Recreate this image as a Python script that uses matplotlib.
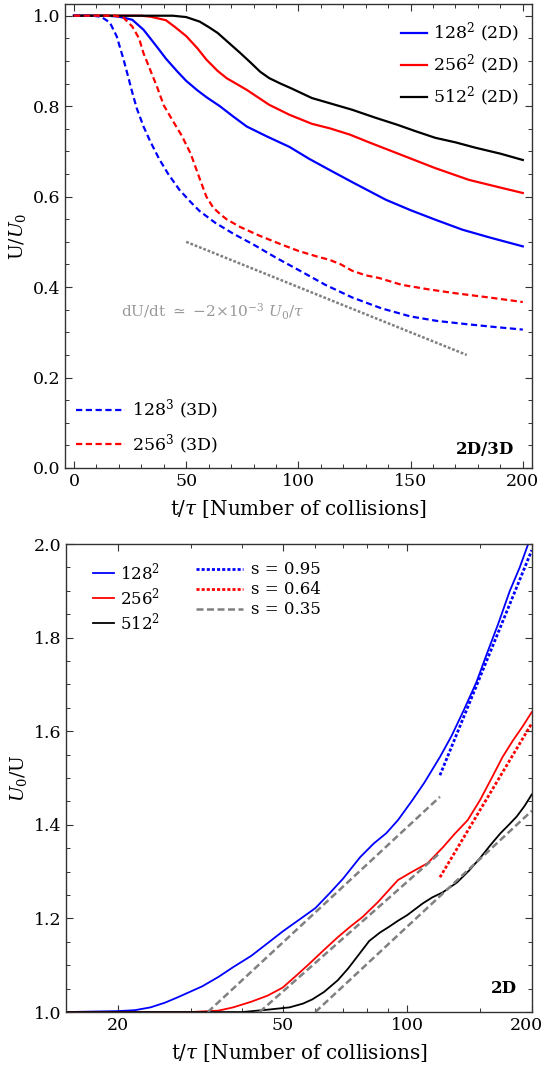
import matplotlib
matplotlib.use("Agg")
import matplotlib.pyplot as plt
import matplotlib.transforms as mtransforms
from matplotlib.ticker import FixedLocator, NullFormatter, MultipleLocator

plt.rcParams['font.family'] = ['DejaVu Serif']
plt.rcParams['mathtext.fontset'] = 'dejavuserif'
plt.rcParams['font.size'] = 12.5

# --- energy decay U/U0 (top) ---
t_b2 = [0, 15, 20, 26, 31, 37, 41, 46, 50, 55, 59, 65, 71, 77, 86, 96, 105, 115, 124, 139, 150, 161, 173, 185, 200]
u_b2 = [1, 1, 0.998, 0.991, 0.969, 0.931, 0.905, 0.877, 0.856, 0.835, 0.82, 0.80, 0.777, 0.755, 0.733, 0.71, 0.683,
        0.656, 0.632, 0.593, 0.57, 0.549, 0.527, 0.51, 0.49]
t_r2 = [0, 30, 34, 41, 45, 50, 55, 59, 64, 68, 77, 87, 96, 106, 114, 123, 132, 146, 161, 176, 190, 200]
u_r2 = [1, 1, 0.998, 0.99, 0.975, 0.955, 0.928, 0.903, 0.878, 0.862, 0.836, 0.803, 0.781, 0.761, 0.751, 0.737, 0.719,
        0.692, 0.663, 0.637, 0.62, 0.608]
t_k2 = [0, 44, 50, 56, 60, 64, 69, 74, 79, 83, 87, 92, 97, 106, 115, 124, 134, 144, 152, 161, 170, 179, 190, 200]
u_k2 = [1, 1, 0.997, 0.987, 0.975, 0.962, 0.94, 0.918, 0.895, 0.876, 0.862, 0.85, 0.839, 0.818, 0.805, 0.792, 0.775,
        0.759, 0.745, 0.73, 0.72, 0.708, 0.695, 0.681]
t_b3 = [0, 8, 12, 16, 19, 22, 24, 26, 28, 31, 34, 38, 42, 47, 52, 56, 63, 71, 80, 90, 100, 112, 124, 137, 150, 162,
        175, 187, 200]
u_b3 = [1, 1, 0.998, 0.985, 0.955, 0.905, 0.868, 0.83, 0.795, 0.755, 0.722, 0.683, 0.65, 0.615, 0.588, 0.568, 0.542,
        0.518, 0.494, 0.465, 0.438, 0.405, 0.377, 0.353, 0.335, 0.325, 0.318, 0.312, 0.306]
t_r3 = [0, 18, 22, 26, 29, 31, 34, 37, 40, 44, 48, 52, 56, 59, 62, 65, 68, 74, 82, 92, 100, 108, 114, 119, 124, 130,
        136, 146, 158, 169, 185, 200]
u_r3 = [1, 1, 0.996, 0.976, 0.95, 0.917, 0.88, 0.843, 0.802, 0.768, 0.735, 0.695, 0.64, 0.6, 0.576, 0.562, 0.55,
        0.533, 0.515, 0.495, 0.48, 0.468, 0.46, 0.45, 0.436, 0.426, 0.42, 0.405, 0.395, 0.387, 0.377, 0.367]
t_slope = [50, 175]
u_slope = [0.5, 0.25]

# --- inverse energy U0/U (bottom, log time) ---
t_b = [15, 20, 22, 24, 26, 28, 32, 35, 38, 42, 46, 50, 56, 60, 65, 70, 77, 83, 89, 95, 103, 110, 120, 128, 137, 147,
       156, 166, 177, 187, 196, 200]
v_b = [1.0, 1.002, 1.004, 1.01, 1.02, 1.032, 1.055, 1.075, 1.096, 1.12, 1.147, 1.172, 1.203, 1.222, 1.254, 1.285,
       1.331, 1.36, 1.382, 1.41, 1.453, 1.49, 1.545, 1.59, 1.645, 1.705, 1.767, 1.83, 1.90, 1.95, 2.0, 2.02]
t_r = [15, 30, 35, 38, 42, 46, 50, 54, 58, 63, 68, 73, 78, 85, 95, 102, 112, 122, 130, 140, 150, 160, 170, 180, 190, 200]
v_r = [1.0, 1.0, 1.003, 1.01, 1.022, 1.035, 1.052, 1.078, 1.103, 1.133, 1.16, 1.183, 1.203, 1.235, 1.282, 1.298, 1.318,
       1.352, 1.38, 1.41, 1.453, 1.5, 1.545, 1.58, 1.61, 1.641]
t_k = [15, 40, 46, 52, 56, 59, 63, 68, 72, 76, 81, 86, 90, 95, 100, 109, 115, 122, 132, 141, 150, 159, 168, 176, 184,
       192, 200]
v_k = [1.0, 1.0, 1.005, 1.01, 1.018, 1.027, 1.043, 1.068, 1.093, 1.12, 1.152, 1.17, 1.181, 1.195, 1.207, 1.232,
       1.245, 1.256, 1.277, 1.302, 1.329, 1.357, 1.382, 1.4, 1.418, 1.44, 1.465]
t_fit_b, v_fit_b = [120, 200], [1.506, 1.987]
t_fit_r, v_fit_r = [120, 200], [1.288, 1.617]
t_fit_g1, v_fit_g1 = [33, 120], [1.0, 1.46]
t_fit_g2, v_fit_g2 = [44, 120], [1.0, 1.34]
t_fit_g3, v_fit_g3 = [60, 200], [1.0, 1.43]

BLUE, RED, BLACK, GRAY = '#0000ff', '#ff0000', '#000000', '#808080'
LW = 1.6
DASH = (0, (2.8, 1.6))
GDASH = (0, (2.8, 1.4))
DOT = (0, (1.1, 0.75))


def style_axes(ax):
    for s in ax.spines.values():
        s.set_color('#333333')
        s.set_linewidth(1.0)
    ax.tick_params(which='both', direction='in', top=True, right=True, color='#333333', labelsize=12.5)
    ax.tick_params(which='major', length=5, width=0.8)
    ax.tick_params(which='minor', length=3, width=0.7)


fig = plt.figure(figsize=(5.46, 10.68), dpi=100)
ax1 = fig.add_axes([0.119, 0.5618, 0.855, 0.4345])
ax2 = fig.add_axes([0.121, 0.0524, 0.853, 0.4382])

# top panel
l_b2, = ax1.plot(t_b2, u_b2, color=BLUE, lw=LW)
l_r2, = ax1.plot(t_r2, u_r2, color=RED, lw=LW)
l_k2, = ax1.plot(t_k2, u_k2, color=BLACK, lw=LW)
l_b3, = ax1.plot(t_b3, u_b3, color=BLUE, lw=LW, ls=DASH)
l_r3, = ax1.plot(t_r3, u_r3, color=RED, lw=LW, ls=DASH)
ax1.plot(t_slope, u_slope, color=GRAY, lw=1.8, ls=DOT)
ax1.text(21, 0.345, r'dU/dt $\simeq$ $-2{\times}10^{-3}$ $U_0/\tau$', color='#999999', fontsize=11,
         va='center', ha='left')
ax1.text(0.963, 0.04, '2D/3D', transform=ax1.transAxes, ha='right', va='center', fontweight='bold', fontsize=12)

ax1.set_xlim(-4, 204)
ax1.set_ylim(0, 1.026)
ax1.xaxis.set_major_locator(FixedLocator([0, 50, 100, 150, 200]))
ax1.xaxis.set_minor_locator(MultipleLocator(10))
ax1.yaxis.set_major_locator(FixedLocator([0.0, 0.2, 0.4, 0.6, 0.8, 1.0]))
ax1.yaxis.set_minor_locator(MultipleLocator(0.05))
ax1.set_yticklabels(['0.0', '0.2', '0.4', '0.6', '0.8', '1.0'])
ax1.set_xlabel(r't/$\tau$ [Number of collisions]', labelpad=6, fontsize=14.3)
ax1.set_ylabel(r'U/$U_0$', labelpad=3, fontsize=13.5)
style_axes(ax1)

leg1 = ax1.legend([l_b2, l_r2, l_k2], [r'$128^2$ (2D)', r'$256^2$ (2D)', r'$512^2$ (2D)'],
                  loc='upper right', bbox_to_anchor=(1.0, 0.99), frameon=False, handlelength=1.5,
                  handletextpad=0.35, labelspacing=0.45, borderaxespad=0.3)
ax1.add_artist(leg1)
ax1.legend([l_b3, l_r3], [r'$128^3$ (3D)', r'$256^3$ (3D)'], loc='lower left',
           bbox_to_anchor=(0.0, 0.0), frameon=False, handlelength=2.8, handletextpad=0.4,
           labelspacing=0.6, borderaxespad=0.25)

# bottom panel
m_b, = ax2.plot(t_b, v_b, color=BLUE, lw=1.3)
m_r, = ax2.plot(t_r, v_r, color=RED, lw=1.3)
m_k, = ax2.plot(t_k, v_k, color=BLACK, lw=1.3)
f_b, = ax2.plot(t_fit_b, v_fit_b, color=BLUE, lw=2.0, ls=DOT)
f_r, = ax2.plot(t_fit_r, v_fit_r, color=RED, lw=2.0, ls=DOT)
f_g, = ax2.plot(t_fit_g1, v_fit_g1, color=GRAY, lw=1.8, ls=GDASH)
ax2.plot(t_fit_g2, v_fit_g2, color=GRAY, lw=1.8, ls=GDASH)
ax2.plot(t_fit_g3, v_fit_g3, color=GRAY, lw=1.8, ls=GDASH)
ax2.text(0.968, 0.051, '2D', transform=ax2.transAxes, ha='right', va='center', fontweight='bold', fontsize=12)

ax2.set_xscale('log')
ax2.set_xlim(15, 200)
ax2.set_ylim(1.0, 2.0)
ax2.xaxis.set_major_locator(FixedLocator([20, 50, 100, 200]))
ax2.xaxis.set_minor_locator(FixedLocator([30, 40, 60, 70, 80, 90, 150]))
ax2.xaxis.set_minor_formatter(NullFormatter())
ax2.set_xticklabels(['20', '50', '100', '200'])
ax2.yaxis.set_major_locator(FixedLocator([1.0, 1.2, 1.4, 1.6, 1.8, 2.0]))
ax2.yaxis.set_minor_locator(MultipleLocator(0.05))
ax2.set_yticklabels(['1.0', '1.2', '1.4', '1.6', '1.8', '2.0'])
ax2.set_xlabel(r't/$\tau$ [Number of collisions]', labelpad=6, fontsize=14.3)
ax2.set_ylabel(r'$U_0$/U', labelpad=3, fontsize=13.5)
style_axes(ax2)

# nudge the last "200" label so it stays inside the figure
last = ax2.get_xticklabels()[-1]
last.set_transform(last.get_transform() + mtransforms.ScaledTranslation(-4 / 72, 0, fig.dpi_scale_trans))

leg2 = ax2.legend([m_b, m_r, m_k], [r'$128^2$', r'$256^2$', r'$512^2$'], loc='upper left',
                  bbox_to_anchor=(0.025, 0.995), frameon=False, handlelength=1.25, handletextpad=0.4,
                  labelspacing=0.18, fontsize=12)
ax2.add_artist(leg2)
ax2.legend([f_b, f_r, f_g], ['s = 0.95', 's = 0.64', 's = 0.35'], loc='upper left',
           bbox_to_anchor=(0.247, 0.995), frameon=False, handlelength=2.8, handletextpad=0.5,
           labelspacing=0.18, fontsize=12)

fig.savefig('out.png', dpi=100)
